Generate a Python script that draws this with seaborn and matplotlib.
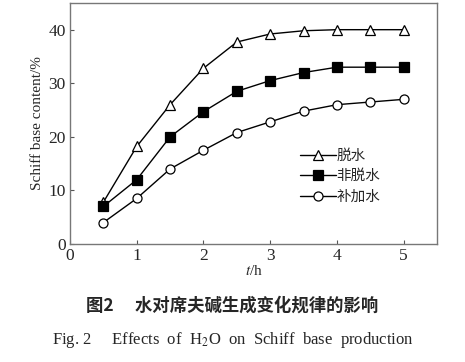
import numpy as np
import pandas as pd
import matplotlib
matplotlib.use('Agg')
import matplotlib.pyplot as plt
import seaborn as sns

# data
hours = [0.5, 1, 1.5, 2, 2.5, 3, 3.5, 4, 4.5, 5]
dehydrated = [7.8, 18.2, 26.0, 32.8, 37.7, 39.2, 39.8, 40.0, 40.0, 40.0]
non_dehydrated = [7.0, 12.0, 20.0, 24.7, 28.5, 30.5, 32.0, 33.0, 33.0, 33.0]
added_water = [4.0, 8.5, 14.0, 17.5, 20.8, 22.8, 24.8, 26.0, 26.5, 27.0]
series_names = ['脱水', '非脱水', '补加水']

sns.set_style('ticks')
plt.rcParams['font.family'] = ['Liberation Serif', 'Noto Sans CJK SC']
plt.rcParams['mathtext.fontset'] = 'stix'

fig = plt.figure(figsize=(4.65, 3.62), dpi=100)
ax = fig.add_axes([0.1505, 0.326, 0.7895, 0.666])

styles = [('^', 'white'), ('s', 'black'), ('o', 'white')]
for vals, name, (mk, fc) in zip([dehydrated, non_dehydrated, added_water], series_names, styles):
    df = pd.DataFrame({'t': hours, 'v': vals})
    sns.lineplot(data=df, x='t', y='v', ax=ax, color='black', lw=1.0,
                 marker=mk, markersize=6.5, markerfacecolor=fc,
                 markeredgecolor='black', markeredgewidth=0.9, label=name)

ax.set_xlim(0, 5.5)
ax.set_ylim(0, 45)
ax.set_xticks([0, 1, 2, 3, 4, 5])
ax.set_yticks([0, 10, 20, 30, 40])
ax.tick_params(direction='in', length=3, labelsize=12.5, color='#555555', pad=3)
for s in ax.spines.values():
    s.set_color('#777777')
    s.set_linewidth(1.0)
ax.set_xlabel(r'$t$/h', fontsize=11, labelpad=0)
ax.set_ylabel('Schiff base content/%', fontsize=11, labelpad=3)

leg = ax.legend(loc='upper left', bbox_to_anchor=(0.59, 0.45), frameon=False,
                handlelength=2.5, handletextpad=0.0, labelspacing=0.45,
                prop={'family': ['Noto Sans CJK SC'], 'size': 10.5, 'weight': 'light'})

fig.text(0.5, 0.157, '图2　 水对席夫碱生成变化规律的影响', ha='center', va='center',
         fontsize=12.5, fontweight='bold', family=['Noto Sans CJK SC', 'DejaVu Sans'])
fig.text(0.5, 0.06, r'Fig. 2     Effects  of  H$_2$O  on  Schiff  base  production',
         ha='center', va='center', fontsize=12)

fig.savefig('out.png', dpi=100)
